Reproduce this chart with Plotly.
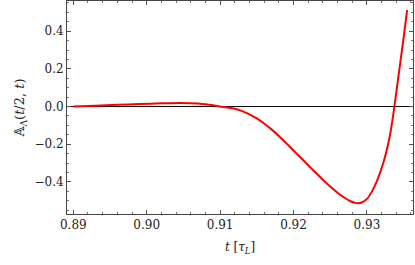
import plotly.graph_objects as go

t_vals = [0.890, 0.893, 0.896, 0.899, 0.902, 0.9045, 0.9070, 0.9085, 0.9100,
          0.9110, 0.9120, 0.9130, 0.9140, 0.9150, 0.9160, 0.9170, 0.9180, 0.9190,
          0.9200, 0.9210, 0.9220, 0.9230, 0.9240, 0.9250, 0.9260, 0.9270, 0.9277,
          0.9284, 0.9288, 0.9293, 0.9300, 0.9307, 0.9314, 0.9323, 0.9330, 0.9334,
          0.93374, 0.93415, 0.93457, 0.93500, 0.93548]
a_vals = [0.000, 0.004, 0.009, 0.013, 0.017, 0.019, 0.016, 0.009, 0.000,
          -0.005, -0.012, -0.024, -0.041, -0.063, -0.090, -0.121, -0.156, -0.194,
          -0.233, -0.272, -0.311, -0.350, -0.388, -0.424, -0.457, -0.485, -0.501,
          -0.511, -0.513, -0.509, -0.490, -0.450, -0.392, -0.290, -0.180, -0.092,
          0.000, 0.118, 0.240, 0.365, 0.512]
x_ticks = [0.89, 0.90, 0.91, 0.92, 0.93]
y_ticks = [-0.4, -0.2, 0.0, 0.2, 0.4]
x_range = [0.88914, 0.93628]
y_range = [-0.570, 0.560]

font = "'DejaVu Serif', serif"
fig = go.Figure()
fig.add_trace(go.Scatter(x=x_range, y=[0, 0], mode="lines",
                         line=dict(color="black", width=1), hoverinfo="skip"))
fig.add_trace(go.Scatter(x=t_vals, y=a_vals, mode="lines",
                         line=dict(color="#ff0000", width=2, shape="spline", smoothing=0.6)))

axis_common = dict(showgrid=False, zeroline=False, showline=True, linecolor="#444",
                   linewidth=1, mirror="allticks", ticks="inside", ticklen=4,
                   tickcolor="#555", tickfont=dict(family=font, size=12, color="#222"))
fig.update_xaxes(range=x_range, tickvals=x_ticks, tickformat=".2f",
                 minor=dict(dtick=0.002, ticks="inside", ticklen=2, tickcolor="#777", showgrid=False),
                 title=dict(text="<i>t</i> [<i>τ</i><sub><i>L</i></sub>]",
                            font=dict(family=font, size=12, color="#222"), standoff=11),
                 **axis_common)
fig.update_yaxes(range=y_range, tickvals=y_ticks, tickformat=".1f",
                 minor=dict(dtick=0.05, ticks="inside", ticklen=2, tickcolor="#777", showgrid=False),
                 title=dict(text="𝔸<sub>Λ</sub>(<i>t</i>/2, <i>t</i>)",
                            font=dict(family=font, size=13, color="#222"), standoff=6),
                 **axis_common)
fig.update_layout(width=415, height=265, margin=dict(l=67, r=2, t=1, b=51),
                  showlegend=False, plot_bgcolor="white", paper_bgcolor="white")
fig.write_html("out.html", config={"displayModeBar": False},
               post_script="document.body.style.margin='0';")
